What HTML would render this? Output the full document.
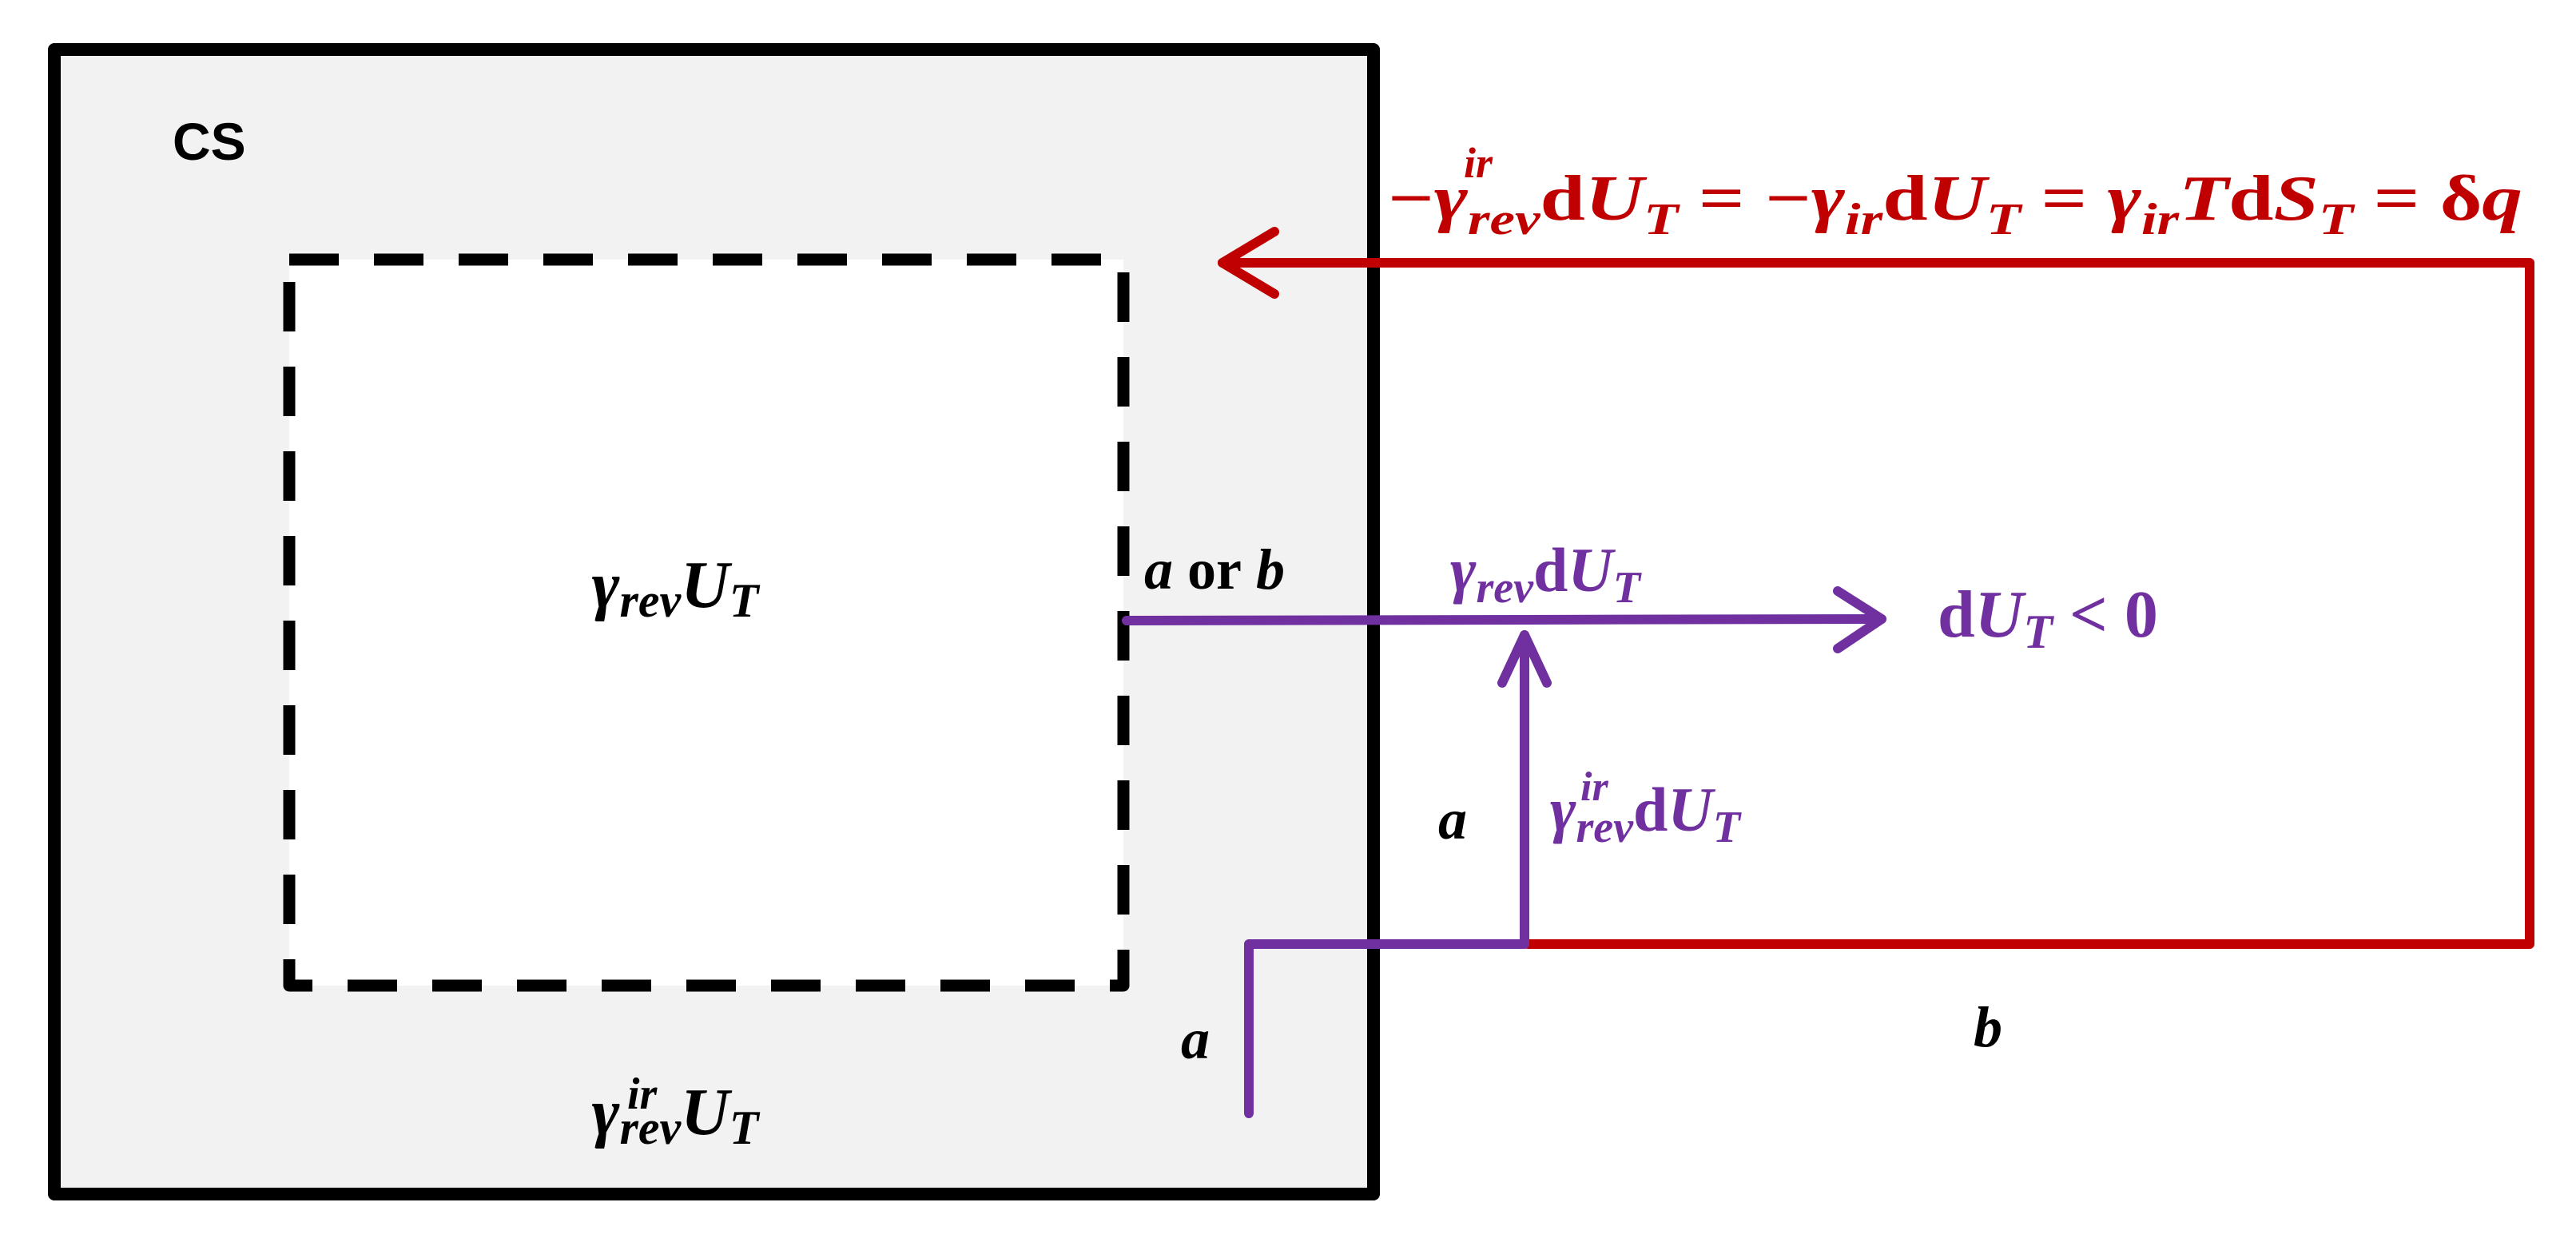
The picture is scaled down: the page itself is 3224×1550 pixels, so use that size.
<!DOCTYPE html>
<html><head><meta charset="utf-8"><style>
html,body{margin:0;padding:0;background:#fff;}
svg{display:block}
text{font-family:"Liberation Serif",serif;font-weight:bold;font-style:italic}
</style></head><body>
<svg width="3224" height="1550" viewBox="0 0 3224 1550" xmlns="http://www.w3.org/2000/svg">
<rect x="68" y="62" width="1651" height="1433" fill="#f2f2f2" stroke="#000" stroke-width="16" stroke-linejoin="round"/>
<rect x="362" y="325" width="1044" height="909" fill="#fff"/>
<rect x="362" y="325" width="1044" height="909" fill="none" stroke="#000" stroke-width="15" stroke-dasharray="62 44" stroke-linejoin="round"/>
<text x="216" y="200" font-size="66" style="font-family:'Liberation Sans',sans-serif;font-style:normal" >CS</text>
<text x="845" y="760" font-size="84" text-anchor="middle">γ<tspan font-size="60" dy="12">rev</tspan><tspan dy="-12">U</tspan><tspan font-size="60" dy="12">T</tspan></text>
<text x="845" y="1420" font-size="84" text-anchor="middle">γ<tspan font-size="60" dy="12">rev</tspan><tspan dy="-12">U</tspan><tspan font-size="60" dy="12">T</tspan></text>
<text x="785" y="1388" font-size="56">ir</text>
<!-- red -->
<g stroke="#c00000" stroke-width="12" fill="none" stroke-linecap="round" stroke-linejoin="round">
<polyline points="1530,329 3166,329 3166,1182 1912,1182"/>
<polyline points="1595,290 1530,329 1595,368"/>
</g>
<text x="1737" y="275" font-size="80" fill="#c00000" textLength="1420" lengthAdjust="spacingAndGlyphs" style="font-style:normal">−<tspan style="font-style:italic">γ</tspan><tspan font-size="56" dy="18" style="font-style:italic">rev</tspan><tspan dy="-18">d</tspan><tspan style="font-style:italic">U</tspan><tspan font-size="56" dy="18" style="font-style:italic">T</tspan><tspan dy="-18"> = −</tspan><tspan style="font-style:italic">γ</tspan><tspan font-size="56" dy="18" style="font-style:italic">ir</tspan><tspan dy="-18">d</tspan><tspan style="font-style:italic">U</tspan><tspan font-size="56" dy="18" style="font-style:italic">T</tspan><tspan dy="-18"> = </tspan><tspan style="font-style:italic">γ</tspan><tspan font-size="56" dy="18" style="font-style:italic">ir</tspan><tspan dy="-18" style="font-style:italic">T</tspan><tspan>d</tspan><tspan style="font-style:italic">S</tspan><tspan font-size="56" dy="18" style="font-style:italic">T</tspan><tspan dy="-18"> = δ</tspan><tspan style="font-style:italic">q</tspan></text>
<text x="1832" y="222" font-size="54" fill="#c00000">ir</text>
<!-- purple -->
<g stroke="#7030a0" stroke-width="12" fill="none" stroke-linecap="round" stroke-linejoin="round">
<polyline points="1410,777 2355,775"/>
<polyline points="2300,740 2355,775 2300,812"/>
<polyline points="1563,1394 1563,1182 1908,1182 1908,795"/>
<polyline points="1880,855 1908,795 1936,855"/>
</g>
<text x="1432" y="737" font-size="72" fill="#000">a <tspan style="font-style:normal">or</tspan> b</text>
<text x="1815" y="740" font-size="78" fill="#7030a0">γ<tspan font-size="56" dy="14">rev</tspan><tspan dy="-14" style="font-style:normal">d</tspan>U<tspan font-size="56" dy="14">T</tspan></text>
<text x="2425" y="797" font-size="84" fill="#7030a0"><tspan style="font-style:normal">d</tspan>U<tspan font-size="60" dy="14">T</tspan><tspan dy="-14" style="font-style:normal"> &lt; 0</tspan></text>
<text x="1940" y="1040" font-size="78" fill="#7030a0">γ<tspan font-size="56" dy="14">rev</tspan><tspan dy="-14" style="font-style:normal">d</tspan>U<tspan font-size="56" dy="14">T</tspan></text>
<text x="1978" y="1002" font-size="52" fill="#7030a0">ir</text>
<text x="1800" y="1050" font-size="72">a</text>
<text x="1478" y="1325" font-size="72">a</text>
<text x="2470" y="1310" font-size="72">b</text>
</svg>
</body></html>
